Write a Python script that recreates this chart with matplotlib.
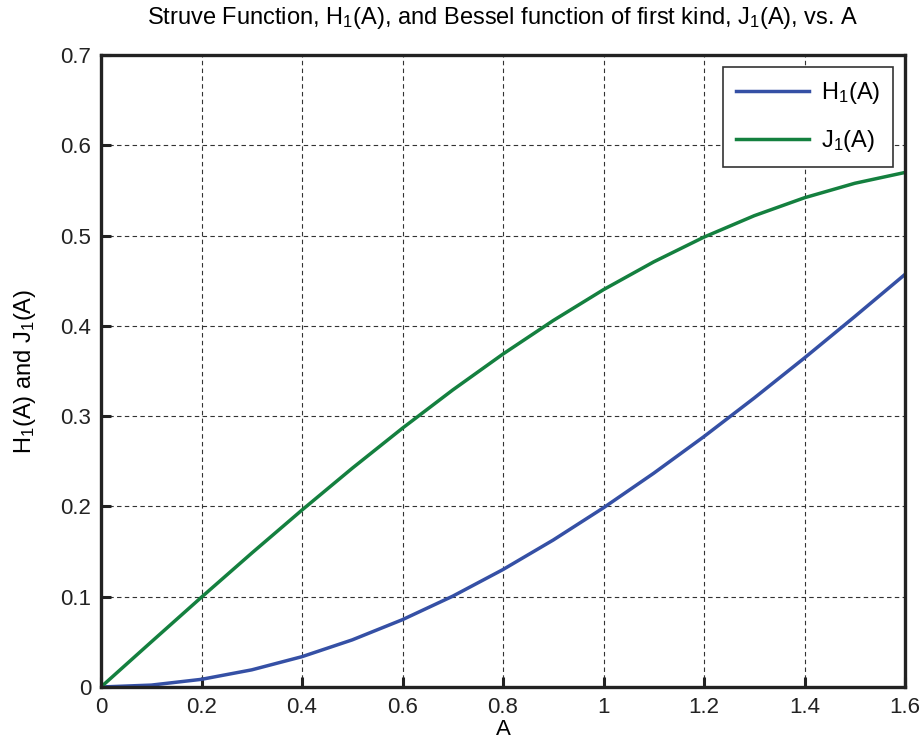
import matplotlib
matplotlib.use('Agg')
import matplotlib.pyplot as plt

# Data (A = 0 .. 1.6, step 0.1)
a_values = [0.0, 0.1, 0.2, 0.3, 0.4, 0.5, 0.6, 0.7, 0.8,
            0.9, 1.0, 1.1, 1.2, 1.3, 1.4, 1.5, 1.6]
struve_h1 = [0.0, 0.0021, 0.0085, 0.0190, 0.0336, 0.0522, 0.0746, 0.1006, 0.1301,
             0.1628, 0.1985, 0.2368, 0.2774, 0.3201, 0.3645, 0.4103, 0.4570]
bessel_j1 = [0.0, 0.0499, 0.0995, 0.1483, 0.1960, 0.2423, 0.2867, 0.3290, 0.3688,
             0.4059, 0.4401, 0.4709, 0.4983, 0.5220, 0.5419, 0.5579, 0.5699]
x_ticks = [0, 0.2, 0.4, 0.6, 0.8, 1, 1.2, 1.4, 1.6]
y_ticks = [0, 0.1, 0.2, 0.3, 0.4, 0.5, 0.6, 0.7]

plt.rcParams['font.family'] = ['Liberation Sans', 'DejaVu Sans']
plt.rcParams['mathtext.fontset'] = 'custom'
plt.rcParams['mathtext.rm'] = 'Liberation Sans'
plt.rcParams['mathtext.it'] = 'Liberation Sans'
plt.rcParams['mathtext.default'] = 'rm'

fig = plt.figure(figsize=(9.22, 7.51), dpi=100)
ax = fig.add_axes([101 / 922, 1 - 687 / 751, (905 - 101) / 922, (687 - 55) / 751])

ax.plot(a_values, struve_h1, color='#3550a5', linewidth=2.5, label='H$_1$(A)')
ax.plot(a_values, bessel_j1, color='#14803f', linewidth=2.5, label='J$_1$(A)')

ax.set_xlim(0, 1.6)
ax.set_ylim(0, 0.7)
ax.set_xticks(x_ticks)
ax.set_yticks(y_ticks)
ax.set_xticklabels([f'{t:g}' for t in x_ticks])
ax.set_yticklabels([f'{t:g}' for t in y_ticks])
ax.tick_params(direction='in', length=7, width=2.2, labelsize=16, pad=7,
               top=False, right=False, colors='#222222')
for s in ax.spines.values():
    s.set_linewidth(2.4)
    s.set_color('#222222')

ax.grid(True, color='#333333', linestyle=(0, (4, 3)), linewidth=0.8)

ax.set_xlabel('A', fontsize=16, labelpad=1)
ax.set_ylabel('H$_1$(A) and J$_1$(A)', fontsize=17, labelpad=16)
ax.set_title('Struve Function, H$_1$(A), and Bessel function of first kind, J$_1$(A), vs. A',
             fontsize=17, pad=22)

leg = ax.legend(loc='upper right', fontsize=17, handlelength=3.1, handletextpad=0.5,
                borderpad=0.55, labelspacing=0.95, fancybox=False, framealpha=1,
                borderaxespad=0.5)
leg.get_frame().set_edgecolor('#333333')
leg.get_frame().set_linewidth(1.2)

fig.savefig('out.png', dpi=100)
